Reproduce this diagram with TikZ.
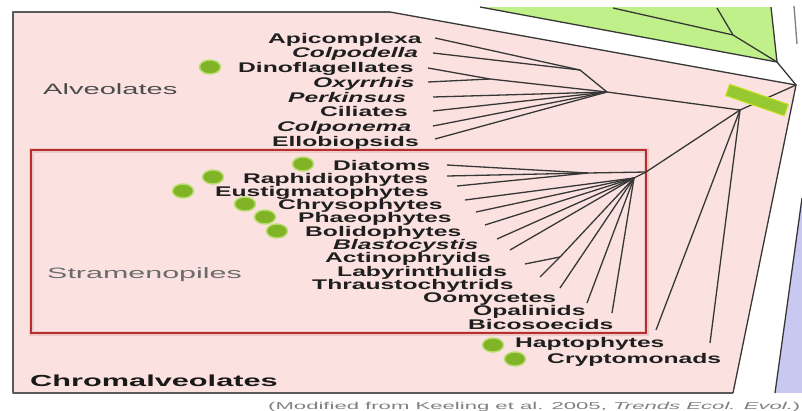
\documentclass[tikz,border=0pt]{standalone}
\usepackage{fontspec}
\setmainfont{Liberation Sans}
\usepackage{graphicx}
\usetikzlibrary{shapes.geometric}
\definecolor{pinkbg}{RGB}{251,226,225}
\definecolor{leafgreen}{RGB}{192,240,138}
\definecolor{dotgreen}{RGB}{128,180,38}
\definecolor{dotrim}{RGB}{184,220,110}
\definecolor{bargreen}{RGB}{150,200,50}
\definecolor{lavender}{RGB}{200,200,240}
\definecolor{boxred}{RGB}{185,45,45}
\definecolor{treeline}{RGB}{55,55,55}
\definecolor{frameline}{RGB}{90,90,90}
\newcommand{\tx}[1]{\scalebox{1.76}[1]{#1}}
\begin{document}
\begin{tikzpicture}[x=1pt,y=-1pt,
  taxon/.style={anchor=base west, inner sep=0pt, font=\bfseries\fontsize{14}{14}\selectfont, text=black!88},
  itaxon/.style={taxon, font=\bfseries\itshape\fontsize{14}{14}\selectfont},
  grouplab/.style={anchor=base west, inner sep=0pt, font=\fontsize{15}{15}\selectfont},
  branch/.style={draw=treeline, line width=1.3pt},
  gdot/.style={ellipse, minimum width=21pt, minimum height=14pt, inner sep=0pt, fill=dotgreen, draw=dotrim, line width=1.5pt},
]
\useasboundingbox (0,0) rectangle (802,410);
\fill[white] (0,0) rectangle (802,410);

% ---------- coordinates ----------
\coordinate (R) at (796,85);
\coordinate (C) at (740,110);
\coordinate (A) at (607,92);
\coordinate (B1) at (580,70);
\coordinate (J1) at (490,79);
\coordinate (S0) at (646,172);
\coordinate (S1) at (634,178);
\coordinate (D0) at (588,173);
\coordinate (LT) at (560,257);
\coordinate (G0) at (777,62);
\coordinate (G1) at (733,35);
\coordinate (gA) at (480,7);
\coordinate (gB) at (771,7);
\coordinate (gC) at (613,8);
\coordinate (gD) at (717,8);
\coordinate (PT) at (390,12);
\coordinate (PB) at (733,393);
\coordinate (blueTop) at (802,198);
\coordinate (blueBot) at (775,393);
\coordinate (vlT) at (794,6);
\coordinate (vlB) at (797,44);

% ---------- regions ----------
\fill[leafgreen] (gA) -- (gB) -- (G0) -- cycle;
\fill[pinkbg] (13,12) -- (PT) -- (R) -- (PB) -- (13,393) -- cycle;
\draw[frameline, line width=1.6pt, line join=round] (PB) -- (13,393) -- (13,12) -- (PT);
\draw[branch] (PT) -- (R) -- (PB);
\fill[lavender] (blueTop) -- (blueBot) -- (802,393) -- cycle;
\draw[branch] (blueTop) -- (blueBot);
\draw[gray, line width=1.3pt] (vlT) -- (vlB);

% red Stramenopiles box
\draw[boxred!25, line width=5pt] (31,150) rectangle (646,333);
\draw[boxred, line width=1.8pt] (31,150) rectangle (646,333);

% ---------- green tree ----------
\draw[branch] (gA) -- (G0);
\draw[branch] (gB) -- (G0);
\draw[branch] (gC) -- (G1);
\draw[branch] (gD) -- (G1) -- (G0) -- (R);

% ---------- leaf tips ----------
\coordinate (tApi) at (435,38);
\coordinate (tColpd) at (433,53);
\coordinate (tDino) at (428,68);
\coordinate (tOxy) at (428,82);
\coordinate (tPerk) at (433,97);
\coordinate (tCil) at (433,111);
\coordinate (tColpn) at (433,126);
\coordinate (tEllo) at (435,139);
\coordinate (tDiat) at (447,165);
\coordinate (tRaph) at (447,176);
\coordinate (tEust) at (457,186);
\coordinate (tChry) at (465,200);
\coordinate (tPhae) at (476,212);
\coordinate (tBoli) at (485,225);
\coordinate (tBlas) at (497,239);
\coordinate (tActi) at (510,250);
\coordinate (tLaby) at (525,264);
\coordinate (tThra) at (540,277);
\coordinate (tOomy) at (560,288);
\coordinate (tOpal) at (587,303);
\coordinate (tBico) at (612,313);
\coordinate (tHapt) at (656,330);
\coordinate (tCryp) at (710,343);

% ---------- alveolate tree ----------
\draw[branch] (tApi) -- (B1);
\draw[branch] (tColpd) -- (B1) -- (A);
\draw[branch] (tDino) -- (J1);
\draw[branch] (tOxy) -- (J1) -- (A);
\draw[branch] (tPerk) -- (A);
\draw[branch] (tCil) -- (A);
\draw[branch] (tColpn) -- (A);
\draw[branch] (tEllo) -- (A);
\draw[branch] (A) -- (C);

% ---------- stramenopile tree ----------
\draw[branch] (tDiat) -- (D0);
\draw[branch] (tRaph) -- (D0);
\draw[branch] (tEust) -- (D0) -- (S0);
\draw[branch] (tChry) -- (S1);
\draw[branch] (tPhae) -- (S1);
\draw[branch] (tBoli) -- (S1);
\draw[branch] (tBlas) -- (S1);
\draw[branch] (tActi) -- (S1);
\draw[branch] (tLaby) -- (LT);
\draw[branch] (tThra) -- (LT) -- (S1);
\draw[branch] (tOomy) -- (S1);
\draw[branch] (tOpal) -- (S1);
\draw[branch] (tBico) -- (S1) -- (S0) -- (C);

% ---------- other chromalveolates ----------
\draw[branch] (tHapt) -- (C);
\draw[branch] (tCryp) -- (C);
\draw[branch] (C) -- (R);

% green bar on the chromalveolate stem
\node[rotate=-19, minimum width=62pt, minimum height=12pt, inner sep=0pt, fill=bargreen, draw=bargreen!55!yellow, line width=1pt] (bar) at (757,100) {};

% ---------- green dots ----------
\node[gdot] (dDino) at (210,67) {};
\node[gdot] (dDiat) at (303,164) {};
\node[gdot] (dRaph) at (213,177) {};
\node[gdot] (dEust) at (183,191) {};
\node[gdot] (dChry) at (245,204) {};
\node[gdot] (dPhae) at (265,217) {};
\node[gdot] (dBoli) at (277,231) {};
\node[gdot] (dHapt) at (493,345) {};
\node[gdot] (dCryp) at (515,359) {};

% ---------- alveolate labels ----------
\node[taxon]  (lApi)   at (268,43)  {\tx{Apicomplexa}};
\node[itaxon] (lColpd) at (292,57)  {\tx{Colpodella}};
\node[taxon]  (lDino)  at (238,72)  {\tx{Dinoflagellates}};
\node[itaxon] (lOxy)   at (313,87)  {\tx{Oxyrrhis}};
\node[itaxon] (lPerk)  at (288,102) {\tx{Perkinsus}};
\node[taxon]  (lCil)   at (320,116) {\tx{Ciliates}};
\node[itaxon] (lColpn) at (277,131) {\tx{Colponema}};
\node[taxon]  (lEllo)  at (272,146) {\tx{Ellobiopsids}};

% ---------- stramenopile labels ----------
\node[taxon]  (lDiat) at (333,170) {\tx{Diatoms}};
\node[taxon]  (lRaph) at (243,183) {\tx{Raphidiophytes}};
\node[taxon]  (lEust) at (215,196) {\tx{Eustigmatophytes}};
\node[taxon]  (lChry) at (278,209) {\tx{Chrysophytes}};
\node[taxon]  (lPhae) at (298,222) {\tx{Phaeophytes}};
\node[taxon]  (lBoli) at (305,236) {\tx{Bolidophytes}};
\node[itaxon] (lBlas) at (333,249) {\tx{Blastocystis}};
\node[taxon]  (lActi) at (325,262) {\tx{Actinophryids}};
\node[taxon]  (lLaby) at (337,276) {\tx{Labyrinthulids}};
\node[taxon]  (lThra) at (312,289) {\tx{Thraustochytrids}};
\node[taxon]  (lOomy) at (423,302) {\tx{Oomycetes}};
\node[taxon]  (lOpal) at (473,315) {\tx{Opalinids}};
\node[taxon]  (lBico) at (468,329.5) {\tx{Bicosoecids}};
\node[taxon]  (lHapt) at (515,347) {\tx{Haptophytes}};
\node[taxon]  (lCryp) at (547,363) {\tx{Cryptomonads}};

% ---------- group labels ----------
\node[grouplab, text=black!70] (gAlv) at (43,94.5) {\scalebox{1.94}[1]{Alveolates}};
\node[grouplab, text=black!58] (gStr) at (47,278) {\scalebox{2.03}[1]{Stramenopiles}};
\node[grouplab, font=\bfseries\fontsize{16}{16}\selectfont, text=black!90] (gChr) at (30,386) {\scalebox{1.92}[1]{Chromalveolates}};

% ---------- caption ----------
\node[anchor=base west, inner sep=0pt, font=\fontsize{10}{10}\selectfont, text=black!50] (cap) at (268,409)
  {\resizebox{532pt}{\height}{(Modified from Keeling et al. 2005, \textit{Trends Ecol. Evol.})}};
\end{tikzpicture}
\end{document}
